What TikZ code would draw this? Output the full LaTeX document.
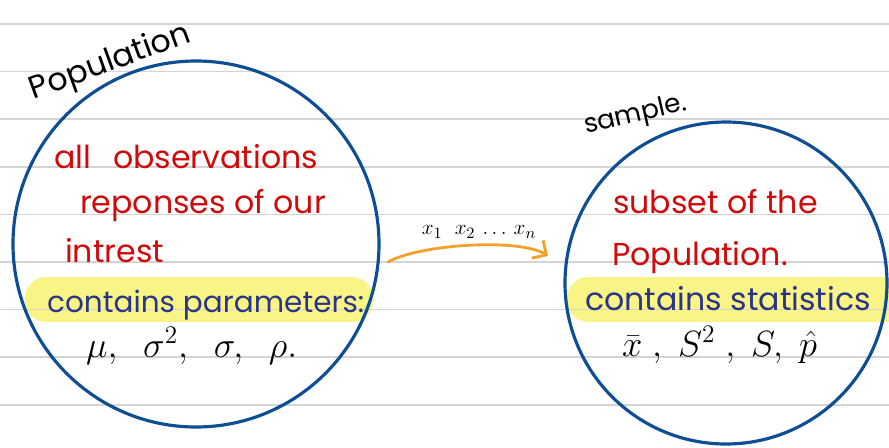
\documentclass[tikz,border=0pt]{standalone}
\usepackage{fontspec}
\setmainfont{Poppins}
\usetikzlibrary{arrows.meta}

\begin{document}
\begin{tikzpicture}[x=0.02cm, y=-0.02cm, inner sep=1pt]

% Colori
\definecolor{colRing}{HTML}{0E4E94}
\definecolor{colRed}{HTML}{D00A0A}
\definecolor{colNavy}{HTML}{2A3585}
\definecolor{colMark}{HTML}{F9F486}
\definecolor{colRule}{HTML}{D4D4D4}
\definecolor{colArrow}{HTML}{F4A12C}

\useasboundingbox (0,0) rectangle (889,447);
\clip (0,0) rectangle (889,447);

% Evidenziatore
\fill[colMark, rounded corners=12pt] (25,277) rectangle (373,322);
\fill[colMark, rounded corners=12pt] (567,277) rectangle (910,322);

% Righe del quaderno
\foreach \k in {0,...,8}
  \draw[colRule, line width=1pt] (0,24+47.6*\k) -- (889,24+47.6*\k);

% Cerchi
\coordinate (popC) at (196,244);
\coordinate (smpC) at (726,283);
\draw[colRing, line width=1.8pt] (popC) circle[radius=183];
\draw[colRing, line width=1.8pt] (smpC) circle[radius=161];

% Titoli
\node[font=\fontsize{18}{20}\selectfont, rotate=20, anchor=base west] (popTitle) at (32,100) {Population};
\node[font=\fontsize{15}{17}\selectfont, rotate=13, anchor=base west] (smpTitle) at (584,134) {sample.};

% Popolazione
\node[font=\fontsize{18}{20}\selectfont, text=colRed, anchor=base west] (popL1) at (52,168) {all \ \,observations};
\node[font=\fontsize{18}{20}\selectfont, text=colRed, anchor=base west] (popL2) at (78,213) {reponses of our};
\node[font=\fontsize{18}{20}\selectfont, text=colRed, anchor=base west] (popL3) at (63,262) {intrest};
\node[font=\fontsize{16.8}{20}\selectfont, text=colNavy, anchor=base west] (popPar) at (45,312) {contains parameters:};
\node[font=\fontsize{21}{23}\selectfont, anchor=base west] (popSym) at (84,357) {$\mu,\ \ \sigma^2,\ \ \sigma,\ \ \rho.$};

% Campione
\node[font=\fontsize{18}{20}\selectfont, text=colRed, anchor=base west] (smpL1) at (611,213) {subset of the};
\node[font=\fontsize{18}{20}\selectfont, text=colRed, anchor=base west] (smpL2) at (610,265) {Population.};
\node[font=\fontsize{18}{20}\selectfont, text=colNavy, anchor=base west] (smpSta) at (583,310) {contains statistics};
\node[font=\fontsize{21}{23}\selectfont, anchor=base west] (smpSym) at (620,356) {$\bar{x}\ ,\ S^2\ ,\ S,\ \hat{p}$};

% Freccia di campionamento
\coordinate (drawFrom) at (388,262);
\coordinate (drawTo) at (548,256);
\draw[colArrow, line width=1.6pt, line cap=round, -{Straight Barb[length=6pt,width=12pt]}]
  (drawFrom) .. controls (420,244) and (520,238) .. (drawTo);
\node[font=\fontsize{13}{15}\selectfont] (drawLbl) at (479,232) {$x_1\ \ x_2\,\ldots\, x_n$};

\end{tikzpicture}
\end{document}
